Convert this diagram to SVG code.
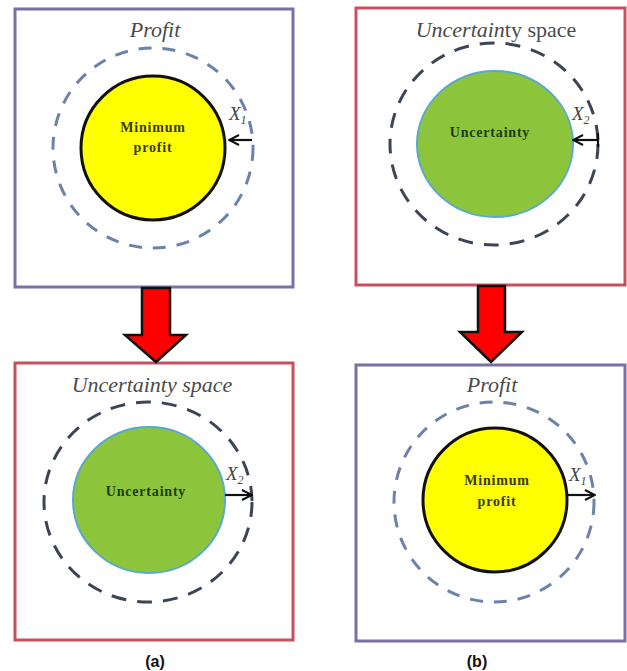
<svg xmlns="http://www.w3.org/2000/svg" width="627" height="671" viewBox="0 0 627 671">
<style>
.fp{fill:#fff;stroke:#7b6fa3;stroke-width:3}
.fu{fill:#fff;stroke:#c8505e;stroke-width:3}
.title{font-family:"Liberation Serif",serif;font-style:italic;font-size:22px;fill:#4a4a4a;text-anchor:middle}
.dp{fill:none;stroke:#6b82ab;stroke-width:3;stroke-dasharray:13 11}
.du{fill:none;stroke:#3c4555;stroke-width:3;stroke-dasharray:15 11}
.yc{fill:#ffff00;stroke:#111;stroke-width:3}
.gc{fill:#8cc43c;stroke:#5aa8d0;stroke-width:2}
.inner{font-family:"Liberation Serif",serif;font-weight:bold;font-size:14px;letter-spacing:0.8px;text-anchor:middle}
.xl{font-family:"Liberation Serif",serif;font-style:italic;font-size:19px;fill:#444}
.sm{stroke:#111;stroke-width:2.2;fill:none}
.red{fill:#ff0000;stroke:#111;stroke-width:2.5;stroke-linejoin:miter}
.cap{font-family:"Liberation Sans",Arial,sans-serif;font-weight:bold;font-size:16px;fill:#111;text-anchor:middle}
</style>
<defs>
<marker id="ah" viewBox="0 0 12 12" refX="11" refY="6" markerWidth="12" markerHeight="12" markerUnits="userSpaceOnUse" orient="auto">
<path d="M1,1 L11,6 L1,11" fill="none" stroke="#111" stroke-width="2"/>
</marker>
</defs>

<g id="a-profit">
<rect class="fp" x="15" y="9" width="278" height="278"/>
<text class="title" x="155" y="37">Profit</text>
<circle class="dp" cx="153" cy="148" r="100"/>
<circle class="yc" cx="153" cy="148" r="72"/>
<text class="inner" x="153" y="132" fill="#3a3a1a">Minimum</text>
<text class="inner" x="153" y="152" fill="#3a3a1a">profit</text>
<line class="sm" x1="252" y1="140" x2="229" y2="140" marker-end="url(#ah)"/>
<text class="xl" x="229" y="120">X<tspan font-size="12" dy="4">1</tspan></text>
</g>

<g id="a-uncertainty">
<rect class="fu" x="15" y="363" width="278" height="277"/>
<text class="title" x="152" y="392">Uncertainty space</text>
<ellipse class="du" cx="148" cy="502" rx="104" ry="100"/>
<ellipse class="gc" cx="149" cy="500" rx="76" ry="73"/>
<text class="inner" x="146" y="496" fill="#1e3d14">Uncertainty</text>
<line class="sm" x1="225" y1="495" x2="252" y2="495" marker-end="url(#ah)"/>
<text class="xl" x="226" y="480">X<tspan font-size="12" dy="4">2</tspan></text>
</g>

<g id="b-uncertainty">
<rect class="fu" x="356" y="8" width="269" height="277"/>
<text class="title" x="496" y="37"><tspan>Uncertain</tspan><tspan font-style="normal">ty space</tspan></text>
<ellipse class="du" cx="494" cy="144" rx="104" ry="101"/>
<ellipse class="gc" cx="495" cy="144" rx="78" ry="73"/>
<text class="inner" x="490" y="137" fill="#1e3d14">Uncertainty</text>
<line class="sm" x1="598" y1="140" x2="573" y2="140" marker-end="url(#ah)"/>
<line class="sm" x1="598" y1="133" x2="598" y2="147"/>
<text class="xl" x="572" y="120">X<tspan font-size="12" dy="4">2</tspan></text>
</g>

<g id="b-profit">
<rect class="fp" x="356" y="365" width="269" height="276"/>
<text class="title" x="492" y="392">Profit</text>
<circle class="dp" cx="494" cy="502" r="100"/>
<circle class="yc" cx="495" cy="500" r="72"/>
<text class="inner" x="497" y="485" fill="#3a3a1a">Minimum</text>
<text class="inner" x="497" y="506" fill="#3a3a1a">profit</text>
<line class="sm" x1="568" y1="495" x2="595" y2="495" marker-end="url(#ah)"/>
<text class="xl" x="569" y="481">X<tspan font-size="12" dy="4">1</tspan></text>
</g>

<g id="connectors">
<polygon class="red" points="142,288 170,288 170,335 186,335 156,362 125,335 142,335"/>
<polygon class="red" points="478,286 505,286 505,332 522,332 491,362 460,332 478,332"/>
</g>

<g id="captions">
<text class="cap" x="155" y="667">(a)</text>
<text class="cap" x="477" y="667">(b)</text>
</g>
</svg>
